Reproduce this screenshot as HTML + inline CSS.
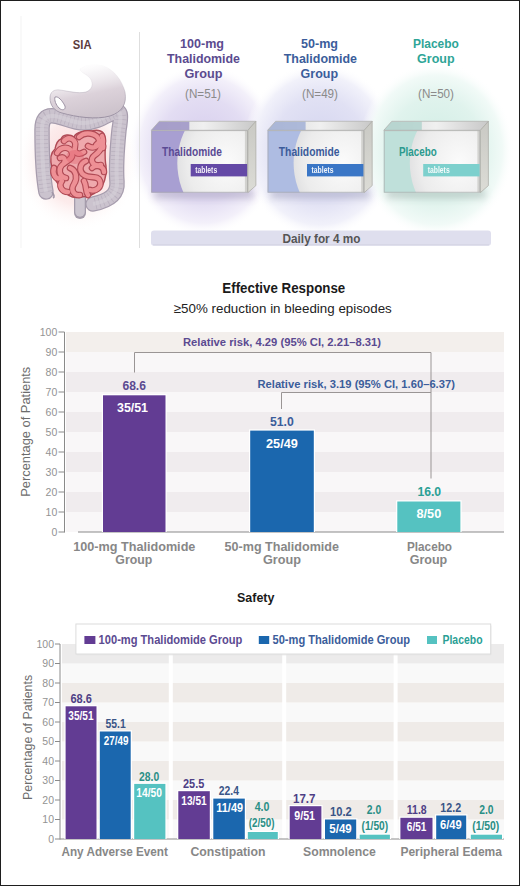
<!DOCTYPE html>
<html><head><meta charset="utf-8">
<style>
html,body{margin:0;padding:0;background:#fff;}
svg{display:block;}
text{font-family:"Liberation Sans",sans-serif;}
.b{font-weight:700;}
</style></head>
<body>
<svg width="520" height="886" viewBox="0 0 520 886">
<defs>
<filter id="blur4" x="-20%" y="-100%" width="140%" height="300%"><feGaussianBlur stdDeviation="3.5"/></filter>
<radialGradient id="gPur" cx="50%" cy="50%" r="50%">
<stop offset="0" stop-color="#d4cbec"/><stop offset="0.6" stop-color="#e3ddf3"/><stop offset="0.85" stop-color="#f3f0fa"/><stop offset="1" stop-color="#ffffff" stop-opacity="0"/>
</radialGradient>
<radialGradient id="gBlu" cx="50%" cy="50%" r="50%">
<stop offset="0" stop-color="#d2d3ee"/><stop offset="0.6" stop-color="#e1e1f4"/><stop offset="0.85" stop-color="#f1f1fa"/><stop offset="1" stop-color="#ffffff" stop-opacity="0"/>
</radialGradient>
<radialGradient id="gTea" cx="50%" cy="50%" r="50%">
<stop offset="0" stop-color="#d0ede4"/><stop offset="0.6" stop-color="#e0f3ed"/><stop offset="0.85" stop-color="#f1faf7"/><stop offset="1" stop-color="#ffffff" stop-opacity="0"/>
</radialGradient>
<radialGradient id="gPink" cx="50%" cy="50%" r="50%">
<stop offset="0" stop-color="#f9d8d8"/><stop offset="0.6" stop-color="#fcebeb"/><stop offset="1" stop-color="#ffffff" stop-opacity="0"/>
</radialGradient>
<radialGradient id="gWhite" cx="45%" cy="50%" r="55%">
<stop offset="0" stop-color="#fbfbfb"/><stop offset="0.65" stop-color="#ececec"/><stop offset="1" stop-color="#d8d8da"/>
</radialGradient>
<linearGradient id="gTop" x1="0" y1="0" x2="1" y2="0">
<stop offset="0" stop-color="#d8d8d8"/><stop offset="0.5" stop-color="#f0f0f0"/><stop offset="1" stop-color="#c8c8c8"/>
</linearGradient>
<linearGradient id="gSide" x1="0" y1="0" x2="0" y2="1">
<stop offset="0" stop-color="#c9c9c4"/><stop offset="1" stop-color="#dcdcd6"/>
</linearGradient>
<linearGradient id="gStom" x1="0" y1="0" x2="0" y2="1">
<stop offset="0" stop-color="#ffffff" stop-opacity="0"/><stop offset="0.5" stop-color="#cfc8d2"/><stop offset="1" stop-color="#bdb4c2"/>
</linearGradient>
</defs>

<!-- ============ TOP SECTION ============ -->
<!-- glows -->
<ellipse cx="204" cy="150" rx="76" ry="86" fill="url(#gPur)"/>
<ellipse cx="320" cy="150" rx="78" ry="88" fill="url(#gBlu)"/>
<ellipse cx="436" cy="150" rx="78" ry="88" fill="url(#gTea)"/>
<ellipse cx="78" cy="162" rx="62" ry="70" fill="url(#gPink)"/>

<line x1="21" y1="16" x2="21" y2="248" stroke="#f3f3f3" stroke-width="1"/>
<line x1="139.5" y1="32" x2="139.5" y2="248" stroke="#dedede" stroke-width="1"/>

<text x="82.2" y="48.5" text-anchor="middle" class="b" font-size="13" fill="#5b3a3c" textLength="18.7" lengthAdjust="spacingAndGlyphs">SIA</text>

<g id="intestine">
<defs><linearGradient id="gSt" x1="0.2" y1="0" x2="0.5" y2="1"><stop offset="0" stop-color="#ffffff" stop-opacity="0"/><stop offset="0.25" stop-color="#f0ecf0" stop-opacity="0.6"/><stop offset="0.6" stop-color="#dcd2da"/><stop offset="1" stop-color="#cdc3cc"/></linearGradient><linearGradient id="gStS" x1="0" y1="0" x2="0" y2="1"><stop offset="0" stop-color="#b0a8b6" stop-opacity="0"/><stop offset="0.4" stop-color="#b0a8b6" stop-opacity="0.2"/><stop offset="0.7" stop-color="#a59cab" stop-opacity="0.8"/><stop offset="1" stop-color="#9a90a2"/></linearGradient></defs>
<path d="M46,192 C43,176 42,150 42,130 C42,120 45,115 54,116 C64,117 72,123 84,123 C96,123 106,116 115,112 C122,109 121,118 119,130 C117,150 116,170 117,182 C118,195 108,201 93,204" fill="none" stroke="#a69cad" stroke-width="15.5" stroke-linecap="round" stroke-linejoin="round"/>
<path d="M46,192 C43,176 42,150 42,130 C42,120 45,115 54,116 C64,117 72,123 84,123 C96,123 106,116 115,112 C122,109 121,118 119,130 C117,150 116,170 117,182 C118,195 108,201 93,204" fill="none" stroke="#cbc3ce" stroke-width="13" stroke-linecap="round" stroke-linejoin="round"/>
<path d="M46,192 C43,176 42,150 42,130 C42,120 45,115 54,116 C64,117 72,123 84,123 C96,123 106,116 115,112 C122,109 121,118 119,130 C117,150 116,170 117,182 C118,195 108,201 93,204" fill="none" stroke="#aaa1b1" stroke-width="12" stroke-dasharray="0.7 3.3" opacity="0.55"/>
<path d="M46,192 C43,176 42,150 42,130 C42,120 45,115 54,116 C64,117 72,123 84,123 C96,123 106,116 115,112 C122,109 121,118 119,130 C117,150 116,170 117,182 C118,195 108,201 93,204" fill="none" stroke="#d6d0d8" stroke-width="4" opacity="0.6"/>
<path d="M52,192 C54,195 55,197 53,198" fill="none" stroke="#a197a8" stroke-width="1.6"/>
<path d="M80,197 L80,213" fill="none" stroke="#a59cab" stroke-width="12" stroke-linecap="round"/>
<path d="M80,197 L80,212" fill="none" stroke="#cdc6d0" stroke-width="9.5" stroke-linecap="round"/>
<path d="M80,69 C86,64 96,63 104,66 C114,70 122,80 125,92 C127,104 122,112 110,116 C96,120 76,117 62,113 C54,111 50,105 50,98 C50,92 54,89 60,90 C68,91 78,94 86,92 C92,90 94,84 90,78 C86,74 80,72 80,69 Z" fill="url(#gSt)" stroke="url(#gStS)" stroke-width="1"/>
<path d="M55,97 C58,96 62,100 65,106 C66,110 62,111 59,108 C56,105 54,100 55,97 Z" fill="#ffffff" stroke="#9d93a4" stroke-width="1"/>
<path d="M61,139 C63,134 70,134 74,137 C76,132 86,130 92,131 C98,129 104,131 105,137 C106,146 104,156 106,166 C107,176 104,186 98,190 C94,195 86,197 80,197 C72,199 64,194 62,187 C56,183 52,176 52,168 C50,160 50,153 55,149 C56,144 58,140 61,139 Z" fill="#efa9ad" stroke="#b04a55" stroke-width="1.4"/>
<path d="M57,153 C61,146 70,146 72,153 C74,159 66,161 62,165 C58,169 59,177 66,178" fill="none" stroke="#b04a55" stroke-width="6.6" stroke-linecap="round" stroke-linejoin="round"/>
<path d="M64,141 C69,135 77,140 75,147 C73,152 78,156 84,152" fill="none" stroke="#b04a55" stroke-width="6.6" stroke-linecap="round" stroke-linejoin="round"/>
<path d="M79,137 C85,131 97,133 99,140 C101,147 92,149 88,146" fill="none" stroke="#b04a55" stroke-width="6.6" stroke-linecap="round" stroke-linejoin="round"/>
<path d="M102,136 C105,143 101,151 95,155 C89,159 92,167 101,165" fill="none" stroke="#b04a55" stroke-width="6.6" stroke-linecap="round" stroke-linejoin="round"/>
<path d="M86,161 C80,163 78,171 84,175 C90,179 98,175 100,181 C102,187 96,192 90,190" fill="none" stroke="#b04a55" stroke-width="6.6" stroke-linecap="round" stroke-linejoin="round"/>
<path d="M70,168 C76,170 78,178 74,184 C70,190 74,196 80,195" fill="none" stroke="#b04a55" stroke-width="6.6" stroke-linecap="round" stroke-linejoin="round"/>
<path d="M62,181 C58,186 62,192 68,192" fill="none" stroke="#b04a55" stroke-width="6.6" stroke-linecap="round" stroke-linejoin="round"/>
<path d="M84,181 C87,186 85,191 88,195" fill="none" stroke="#b04a55" stroke-width="6.6" stroke-linecap="round" stroke-linejoin="round"/>
<path d="M54,168 C52,174 56,180 60,178" fill="none" stroke="#b04a55" stroke-width="6.6" stroke-linecap="round" stroke-linejoin="round"/>
<path d="M92,168 C96,164 104,166 104,172" fill="none" stroke="#b04a55" stroke-width="6.6" stroke-linecap="round" stroke-linejoin="round"/>
<path d="M60,158 C64,156 66,160 64,163" fill="none" stroke="#b04a55" stroke-width="6.6" stroke-linecap="round" stroke-linejoin="round"/>
<path d="M96,145 C99,141 104,143 103,148" fill="none" stroke="#b04a55" stroke-width="6.6" stroke-linecap="round" stroke-linejoin="round"/>
<path d="M57,153 C61,146 70,146 72,153 C74,159 66,161 62,165 C58,169 59,177 66,178" fill="none" stroke="#ee9095" stroke-width="4.4" stroke-linecap="round" stroke-linejoin="round"/>
<path d="M64,141 C69,135 77,140 75,147 C73,152 78,156 84,152" fill="none" stroke="#ee9095" stroke-width="4.4" stroke-linecap="round" stroke-linejoin="round"/>
<path d="M79,137 C85,131 97,133 99,140 C101,147 92,149 88,146" fill="none" stroke="#ee9095" stroke-width="4.4" stroke-linecap="round" stroke-linejoin="round"/>
<path d="M102,136 C105,143 101,151 95,155 C89,159 92,167 101,165" fill="none" stroke="#ee9095" stroke-width="4.4" stroke-linecap="round" stroke-linejoin="round"/>
<path d="M86,161 C80,163 78,171 84,175 C90,179 98,175 100,181 C102,187 96,192 90,190" fill="none" stroke="#ee9095" stroke-width="4.4" stroke-linecap="round" stroke-linejoin="round"/>
<path d="M70,168 C76,170 78,178 74,184 C70,190 74,196 80,195" fill="none" stroke="#ee9095" stroke-width="4.4" stroke-linecap="round" stroke-linejoin="round"/>
<path d="M62,181 C58,186 62,192 68,192" fill="none" stroke="#ee9095" stroke-width="4.4" stroke-linecap="round" stroke-linejoin="round"/>
<path d="M84,181 C87,186 85,191 88,195" fill="none" stroke="#ee9095" stroke-width="4.4" stroke-linecap="round" stroke-linejoin="round"/>
<path d="M54,168 C52,174 56,180 60,178" fill="none" stroke="#ee9095" stroke-width="4.4" stroke-linecap="round" stroke-linejoin="round"/>
<path d="M92,168 C96,164 104,166 104,172" fill="none" stroke="#ee9095" stroke-width="4.4" stroke-linecap="round" stroke-linejoin="round"/>
<path d="M60,158 C64,156 66,160 64,163" fill="none" stroke="#ee9095" stroke-width="4.4" stroke-linecap="round" stroke-linejoin="round"/>
<path d="M96,145 C99,141 104,143 103,148" fill="none" stroke="#ee9095" stroke-width="4.4" stroke-linecap="round" stroke-linejoin="round"/>
<ellipse cx="75" cy="157" rx="9" ry="7" fill="#e05a66" opacity="0.35"/>
</g>

<!-- headings -->
<g class="b" font-size="13.5" text-anchor="middle" fill="#5b4b8f">
<text x="202" y="47.5" textLength="44" lengthAdjust="spacingAndGlyphs">100-mg</text>
<text x="203.5" y="62.5" textLength="73" lengthAdjust="spacingAndGlyphs">Thalidomide</text>
<text x="203.5" y="77.5" textLength="38" lengthAdjust="spacingAndGlyphs">Group</text>
</g>
<g class="b" font-size="13.5" text-anchor="middle" fill="#3b5d9b">
<text x="319.5" y="47.5" textLength="37" lengthAdjust="spacingAndGlyphs">50-mg</text>
<text x="320.4" y="62.5" textLength="73.3" lengthAdjust="spacingAndGlyphs">Thalidomide</text>
<text x="319.3" y="77.5" textLength="37.5" lengthAdjust="spacingAndGlyphs">Group</text>
</g>
<g class="b" font-size="13.5" text-anchor="middle" fill="#2ea597">
<text x="435.9" y="47.5" textLength="45.8" lengthAdjust="spacingAndGlyphs">Placebo</text>
<text x="435.8" y="62.5" textLength="37.5" lengthAdjust="spacingAndGlyphs">Group</text>
</g>
<g font-size="12" text-anchor="middle" fill="#8a8a8a">
<text x="203" y="97.5" textLength="36" lengthAdjust="spacingAndGlyphs">(N=51)</text>
<text x="320" y="97.5" textLength="36" lengthAdjust="spacingAndGlyphs">(N=49)</text>
<text x="436" y="97.5" textLength="36" lengthAdjust="spacingAndGlyphs">(N=50)</text>
</g>

<!-- boxes -->
<g id="boxes">
<clipPath id="clipF1"><rect x="151.3" y="130.3" width="96.6" height="62.29999999999998"/></clipPath>
<clipPath id="clipF1t"><polygon points="151.3,130.3 159.3,121.30000000000001 255.9,121.30000000000001 247.9,130.3"/></clipPath>
<rect x="154.3" y="188.6" width="98.6" height="10" fill="#9890b0" opacity="0.45" filter="url(#blur4)"/>
<rect x="151.3" y="130.3" width="96.6" height="62.29999999999998" fill="#a89fd2"/>
<g clip-path="url(#clipF1)"><ellipse cx="232.3" cy="163" rx="55" ry="64" fill="url(#gWhite)"/><rect x="244.9" y="130.3" width="3" height="62.29999999999998" fill="#c4c4c0" opacity="0.7"/></g>
<rect x="151.70000000000002" y="130.70000000000002" width="95.8" height="61.499999999999986" fill="none" stroke="#a8a8a8" stroke-width="0.8" opacity="0.8"/>
<polygon points="151.3,130.3 159.3,121.30000000000001 255.9,121.30000000000001 247.9,130.3" fill="url(#gTop)"/>
<g clip-path="url(#clipF1t)"><rect x="151.3" y="121.30000000000001" width="38" height="9.0" fill="#9c93c6" opacity="0.85"/></g>
<polygon points="151.3,130.3 159.3,121.30000000000001 255.9,121.30000000000001 247.9,130.3" fill="none" stroke="#b0b0ae" stroke-width="0.7"/>
<polygon points="247.9,130.3 255.9,121.30000000000001 255.9,185.6 247.9,192.6" fill="url(#gSide)" stroke="#a9a9a2" stroke-width="0.7"/>
<text x="162.00" y="155.60" text-anchor="start" font-size="12.5" fill="#5a4a94" font-weight="700" textLength="60.0" lengthAdjust="spacingAndGlyphs">Thalidomide</text>
<rect x="190.70000000000002" y="164" width="56.39999999999999" height="12.4" fill="#6449a6"/>
<text x="195.20" y="173.20" text-anchor="start" font-size="8.5" fill="#ffffff" font-weight="700" textLength="22.0" lengthAdjust="spacingAndGlyphs" opacity="0.92">tablets</text>
<clipPath id="clipF2"><rect x="267.6" y="130.3" width="96.6" height="62.29999999999998"/></clipPath>
<clipPath id="clipF2t"><polygon points="267.6,130.3 275.6,121.30000000000001 372.20000000000005,121.30000000000001 364.20000000000005,130.3"/></clipPath>
<rect x="270.6" y="188.6" width="98.6" height="10" fill="#9496b4" opacity="0.45" filter="url(#blur4)"/>
<rect x="267.6" y="130.3" width="96.6" height="62.29999999999998" fill="#aebce2"/>
<g clip-path="url(#clipF2)"><ellipse cx="348.6" cy="163" rx="55" ry="64" fill="url(#gWhite)"/><rect x="361.20000000000005" y="130.3" width="3" height="62.29999999999998" fill="#c4c4c0" opacity="0.7"/></g>
<rect x="268.0" y="130.70000000000002" width="95.8" height="61.499999999999986" fill="none" stroke="#a8a8a8" stroke-width="0.8" opacity="0.8"/>
<polygon points="267.6,130.3 275.6,121.30000000000001 372.20000000000005,121.30000000000001 364.20000000000005,130.3" fill="url(#gTop)"/>
<g clip-path="url(#clipF2t)"><rect x="267.6" y="121.30000000000001" width="38" height="9.0" fill="#a2b0d6" opacity="0.85"/></g>
<polygon points="267.6,130.3 275.6,121.30000000000001 372.20000000000005,121.30000000000001 364.20000000000005,130.3" fill="none" stroke="#b0b0ae" stroke-width="0.7"/>
<polygon points="364.20000000000005,130.3 372.20000000000005,121.30000000000001 372.20000000000005,185.6 364.20000000000005,192.6" fill="url(#gSide)" stroke="#a9a9a2" stroke-width="0.7"/>
<text x="278.80" y="155.60" text-anchor="start" font-size="12.5" fill="#3b5b9a" font-weight="700" textLength="60.7" lengthAdjust="spacingAndGlyphs">Thalidomide</text>
<rect x="307.0" y="164" width="56.39999999999999" height="12.4" fill="#3a76c6"/>
<text x="311.50" y="173.20" text-anchor="start" font-size="8.5" fill="#ffffff" font-weight="700" textLength="22.0" lengthAdjust="spacingAndGlyphs" opacity="0.92">tablets</text>
<clipPath id="clipF3"><rect x="383.8" y="130.3" width="96.6" height="62.29999999999998"/></clipPath>
<clipPath id="clipF3t"><polygon points="383.8,130.3 391.8,121.30000000000001 488.4,121.30000000000001 480.4,130.3"/></clipPath>
<rect x="386.8" y="188.6" width="98.6" height="10" fill="#98aaa6" opacity="0.45" filter="url(#blur4)"/>
<rect x="383.8" y="130.3" width="96.6" height="62.29999999999998" fill="#bfe0da"/>
<g clip-path="url(#clipF3)"><ellipse cx="464.8" cy="163" rx="55" ry="64" fill="url(#gWhite)"/><rect x="477.4" y="130.3" width="3" height="62.29999999999998" fill="#c4c4c0" opacity="0.7"/></g>
<rect x="384.2" y="130.70000000000002" width="95.8" height="61.499999999999986" fill="none" stroke="#a8a8a8" stroke-width="0.8" opacity="0.8"/>
<polygon points="383.8,130.3 391.8,121.30000000000001 488.4,121.30000000000001 480.4,130.3" fill="url(#gTop)"/>
<g clip-path="url(#clipF3t)"><rect x="383.8" y="121.30000000000001" width="38" height="9.0" fill="#b2d4ce" opacity="0.85"/></g>
<polygon points="383.8,130.3 391.8,121.30000000000001 488.4,121.30000000000001 480.4,130.3" fill="none" stroke="#b0b0ae" stroke-width="0.7"/>
<polygon points="480.4,130.3 488.4,121.30000000000001 488.4,185.6 480.4,192.6" fill="url(#gSide)" stroke="#a9a9a2" stroke-width="0.7"/>
<text x="399.00" y="155.60" text-anchor="start" font-size="12.5" fill="#2a9a8e" font-weight="700" textLength="37.7" lengthAdjust="spacingAndGlyphs">Placebo</text>
<rect x="423.2" y="164" width="56.39999999999999" height="12.4" fill="#7dd0cd"/>
<text x="427.70" y="173.20" text-anchor="start" font-size="8.5" fill="#ffffff" font-weight="700" textLength="22.0" lengthAdjust="spacingAndGlyphs" opacity="0.92">tablets</text>
</g>

<!-- daily bar -->
<rect x="151" y="230.5" width="340" height="15.3" rx="3" fill="#dfdfee"/>
<rect x="153" y="244" width="336" height="1.5" fill="#d4d4e4" opacity="0.8"/>
<text x="321.5" y="242.7" text-anchor="middle" class="b" font-size="12" fill="#555" textLength="78" lengthAdjust="spacingAndGlyphs">Daily for 4 mo</text>

<!-- ============ CHART 1 ============ -->
<text x="283.8" y="293" text-anchor="middle" class="b" font-size="14.5" fill="#1a1a1a" textLength="123" lengthAdjust="spacingAndGlyphs">Effective Response</text>
<text x="282.8" y="313" text-anchor="middle" font-size="13.5" fill="#222" textLength="218" lengthAdjust="spacingAndGlyphs">≥50% reduction in bleeding episodes</text>

<g id="c1bands"></g>
<g id="c1">
<rect x="66" y="512.0" width="438" height="20.0" fill="#f9f7f8"/>
<rect x="66" y="492.0" width="438" height="20.0" fill="#f0ecee"/>
<rect x="66" y="472.0" width="438" height="20.0" fill="#f9f7f8"/>
<rect x="66" y="452.0" width="438" height="20.0" fill="#f0ecee"/>
<rect x="66" y="432.0" width="438" height="20.0" fill="#f9f7f8"/>
<rect x="66" y="412.0" width="438" height="20.0" fill="#f0ecee"/>
<rect x="66" y="392.0" width="438" height="20.0" fill="#f9f7f8"/>
<rect x="66" y="372.0" width="438" height="20.0" fill="#f0ecee"/>
<rect x="66" y="352.0" width="438" height="20.0" fill="#f9f7f8"/>
<rect x="66" y="332.0" width="438" height="20.0" fill="#f3efec"/>
<line x1="64.5" y1="332" x2="64.5" y2="532.5" stroke="#8a8a8a" stroke-width="1"/>
<line x1="78" y1="532" x2="504" y2="532" stroke="#8a8a8a" stroke-width="1.2"/>
<line x1="58.5" y1="532.0" x2="64.5" y2="532.0" stroke="#8a8a8a" stroke-width="1"/>
<text x="57.30" y="535.80" text-anchor="end" font-size="10.5" fill="#939393">0</text>
<line x1="58.5" y1="512.0" x2="64.5" y2="512.0" stroke="#8a8a8a" stroke-width="1"/>
<text x="57.30" y="515.80" text-anchor="end" font-size="10.5" fill="#939393">10</text>
<line x1="58.5" y1="492.0" x2="64.5" y2="492.0" stroke="#8a8a8a" stroke-width="1"/>
<text x="57.30" y="495.80" text-anchor="end" font-size="10.5" fill="#939393">20</text>
<line x1="58.5" y1="472.0" x2="64.5" y2="472.0" stroke="#8a8a8a" stroke-width="1"/>
<text x="57.30" y="475.80" text-anchor="end" font-size="10.5" fill="#939393">30</text>
<line x1="58.5" y1="452.0" x2="64.5" y2="452.0" stroke="#8a8a8a" stroke-width="1"/>
<text x="57.30" y="455.80" text-anchor="end" font-size="10.5" fill="#939393">40</text>
<line x1="58.5" y1="432.0" x2="64.5" y2="432.0" stroke="#8a8a8a" stroke-width="1"/>
<text x="57.30" y="435.80" text-anchor="end" font-size="10.5" fill="#939393">50</text>
<line x1="58.5" y1="412.0" x2="64.5" y2="412.0" stroke="#8a8a8a" stroke-width="1"/>
<text x="57.30" y="415.80" text-anchor="end" font-size="10.5" fill="#939393">60</text>
<line x1="58.5" y1="392.0" x2="64.5" y2="392.0" stroke="#8a8a8a" stroke-width="1"/>
<text x="57.30" y="395.80" text-anchor="end" font-size="10.5" fill="#939393">70</text>
<line x1="58.5" y1="372.0" x2="64.5" y2="372.0" stroke="#8a8a8a" stroke-width="1"/>
<text x="57.30" y="375.80" text-anchor="end" font-size="10.5" fill="#939393">80</text>
<line x1="58.5" y1="352.0" x2="64.5" y2="352.0" stroke="#8a8a8a" stroke-width="1"/>
<text x="57.30" y="355.80" text-anchor="end" font-size="10.5" fill="#939393">90</text>
<line x1="58.5" y1="332.0" x2="64.5" y2="332.0" stroke="#8a8a8a" stroke-width="1"/>
<text x="57.30" y="335.80" text-anchor="end" font-size="10.5" fill="#939393">100</text>
<text x="0.00" y="0.00" text-anchor="middle" font-size="13" fill="#6c6c6c" textLength="130.0" lengthAdjust="spacingAndGlyphs" transform="translate(30.2,431.7) rotate(-90)">Percentage of Patients</text>
<rect x="101.8" y="394.1" width="64.9" height="137.9" fill="#fff"/>
<rect x="103" y="395.3" width="62.5" height="136.7" fill="#623c93"/>
<rect x="249.0" y="429.4" width="66.0" height="102.6" fill="#fff"/>
<rect x="250.2" y="430.6" width="63.6" height="101.4" fill="#1b67ae"/>
<rect x="396.1" y="500.3" width="65.5" height="31.7" fill="#fff"/>
<rect x="397.3" y="501.5" width="63.1" height="30.5" fill="#55c2c1"/>
<path d="M134.5 372.5 V352.5 H431 V478.5" fill="none" stroke="#9a9595" stroke-width="1"/>
<path d="M281.5 409 V392.5 H431" fill="none" stroke="#9a9595" stroke-width="1"/>
<text x="282.00" y="345.50" text-anchor="middle" font-size="11.5" fill="#5b4a91" font-weight="700" textLength="198.0" lengthAdjust="spacingAndGlyphs">Relative risk, 4.29 (95% CI, 2.21–8.31)</text>
<text x="356.20" y="387.50" text-anchor="middle" font-size="11.5" fill="#3b5d9b" font-weight="700" textLength="197.5" lengthAdjust="spacingAndGlyphs">Relative risk, 3.19 (95% CI, 1.60–6.37)</text>
<text x="134.20" y="390.00" text-anchor="middle" font-size="13" fill="#5b4a91" font-weight="700" textLength="23.5" lengthAdjust="spacingAndGlyphs">68.6</text>
<text x="132.50" y="411.90" text-anchor="middle" font-size="12.5" fill="#ffffff" font-weight="700" textLength="31.0" lengthAdjust="spacingAndGlyphs">35/51</text>
<text x="281.90" y="425.50" text-anchor="middle" font-size="13" fill="#3b5d9b" font-weight="700" textLength="23.8" lengthAdjust="spacingAndGlyphs">51.0</text>
<text x="281.90" y="448.30" text-anchor="middle" font-size="12.5" fill="#ffffff" font-weight="700" textLength="31.8" lengthAdjust="spacingAndGlyphs">25/49</text>
<text x="429.30" y="496.00" text-anchor="middle" font-size="13" fill="#2a9f95" font-weight="700" textLength="23.7" lengthAdjust="spacingAndGlyphs">16.0</text>
<text x="428.90" y="517.70" text-anchor="middle" font-size="12.5" fill="#ffffff" font-weight="700" textLength="24.7" lengthAdjust="spacingAndGlyphs">8/50</text>
<text x="134.30" y="550.80" text-anchor="middle" font-size="13" fill="#878787" font-weight="700" textLength="122.2" lengthAdjust="spacingAndGlyphs">100-mg Thalidomide</text>
<text x="133.80" y="564.00" text-anchor="middle" font-size="13" fill="#878787" font-weight="700" textLength="36.9" lengthAdjust="spacingAndGlyphs">Group</text>
<text x="281.80" y="550.80" text-anchor="middle" font-size="13" fill="#878787" font-weight="700" textLength="114.4" lengthAdjust="spacingAndGlyphs">50-mg Thalidomide</text>
<text x="282.00" y="564.00" text-anchor="middle" font-size="13" fill="#878787" font-weight="700" textLength="38.0" lengthAdjust="spacingAndGlyphs">Group</text>
<text x="429.50" y="550.80" text-anchor="middle" font-size="13" fill="#878787" font-weight="700" textLength="45.0" lengthAdjust="spacingAndGlyphs">Placebo</text>
<text x="428.50" y="564.00" text-anchor="middle" font-size="13" fill="#878787" font-weight="700" textLength="37.5" lengthAdjust="spacingAndGlyphs">Group</text>
</g>

<!-- ============ CHART 2 ============ -->
<text x="255.7" y="602.3" text-anchor="middle" class="b" font-size="13.5" fill="#1a1a1a" textLength="37.4" lengthAdjust="spacingAndGlyphs">Safety</text>
<g id="c2">
<rect x="62" y="819.50" width="106.8" height="19.50" fill="#f9f9f9"/>
<rect x="62" y="800.00" width="106.8" height="19.50" fill="#efebe8"/>
<rect x="62" y="780.50" width="106.8" height="19.50" fill="#f9f9f9"/>
<rect x="62" y="761.00" width="106.8" height="19.50" fill="#efebe8"/>
<rect x="62" y="741.50" width="106.8" height="19.50" fill="#f9f9f9"/>
<rect x="62" y="722.00" width="106.8" height="19.50" fill="#efebe8"/>
<rect x="62" y="702.50" width="106.8" height="19.50" fill="#f9f9f9"/>
<rect x="62" y="683.00" width="106.8" height="19.50" fill="#efebe8"/>
<rect x="62" y="663.50" width="106.8" height="19.50" fill="#f9f9f9"/>
<rect x="62" y="644.00" width="106.8" height="19.50" fill="#ecebeb"/>
<rect x="172.8" y="819.50" width="109.4" height="19.50" fill="#f9f9f9"/>
<rect x="172.8" y="800.00" width="109.4" height="19.50" fill="#efebe8"/>
<rect x="172.8" y="780.50" width="109.4" height="19.50" fill="#f9f9f9"/>
<rect x="172.8" y="761.00" width="109.4" height="19.50" fill="#efebe8"/>
<rect x="172.8" y="741.50" width="109.4" height="19.50" fill="#f9f9f9"/>
<rect x="172.8" y="722.00" width="109.4" height="19.50" fill="#efebe8"/>
<rect x="172.8" y="702.50" width="109.4" height="19.50" fill="#f9f9f9"/>
<rect x="172.8" y="683.00" width="109.4" height="19.50" fill="#efebe8"/>
<rect x="172.8" y="663.50" width="109.4" height="19.50" fill="#f9f9f9"/>
<rect x="172.8" y="644.00" width="109.4" height="19.50" fill="#ecebeb"/>
<rect x="286.2" y="819.50" width="107.4" height="19.50" fill="#f9f9f9"/>
<rect x="286.2" y="800.00" width="107.4" height="19.50" fill="#efebe8"/>
<rect x="286.2" y="780.50" width="107.4" height="19.50" fill="#f9f9f9"/>
<rect x="286.2" y="761.00" width="107.4" height="19.50" fill="#efebe8"/>
<rect x="286.2" y="741.50" width="107.4" height="19.50" fill="#f9f9f9"/>
<rect x="286.2" y="722.00" width="107.4" height="19.50" fill="#efebe8"/>
<rect x="286.2" y="702.50" width="107.4" height="19.50" fill="#f9f9f9"/>
<rect x="286.2" y="683.00" width="107.4" height="19.50" fill="#efebe8"/>
<rect x="286.2" y="663.50" width="107.4" height="19.50" fill="#f9f9f9"/>
<rect x="286.2" y="644.00" width="107.4" height="19.50" fill="#ecebeb"/>
<rect x="397.6" y="819.50" width="106.4" height="19.50" fill="#f9f9f9"/>
<rect x="397.6" y="800.00" width="106.4" height="19.50" fill="#efebe8"/>
<rect x="397.6" y="780.50" width="106.4" height="19.50" fill="#f9f9f9"/>
<rect x="397.6" y="761.00" width="106.4" height="19.50" fill="#efebe8"/>
<rect x="397.6" y="741.50" width="106.4" height="19.50" fill="#f9f9f9"/>
<rect x="397.6" y="722.00" width="106.4" height="19.50" fill="#efebe8"/>
<rect x="397.6" y="702.50" width="106.4" height="19.50" fill="#f9f9f9"/>
<rect x="397.6" y="683.00" width="106.4" height="19.50" fill="#efebe8"/>
<rect x="397.6" y="663.50" width="106.4" height="19.50" fill="#f9f9f9"/>
<rect x="397.6" y="644.00" width="106.4" height="19.50" fill="#ecebeb"/>
<line x1="60" y1="644" x2="60" y2="839.5" stroke="#8a8a8a" stroke-width="1"/>
<line x1="60" y1="839" x2="504" y2="839" stroke="#8a8a8a" stroke-width="1"/>
<line x1="55" y1="839.00" x2="60" y2="839.00" stroke="#8a8a8a" stroke-width="1"/>
<text x="54.00" y="842.80" text-anchor="end" font-size="10.5" fill="#939393">0</text>
<line x1="55" y1="819.50" x2="60" y2="819.50" stroke="#8a8a8a" stroke-width="1"/>
<text x="54.00" y="823.30" text-anchor="end" font-size="10.5" fill="#939393">10</text>
<line x1="55" y1="800.00" x2="60" y2="800.00" stroke="#8a8a8a" stroke-width="1"/>
<text x="54.00" y="803.80" text-anchor="end" font-size="10.5" fill="#939393">20</text>
<line x1="55" y1="780.50" x2="60" y2="780.50" stroke="#8a8a8a" stroke-width="1"/>
<text x="54.00" y="784.30" text-anchor="end" font-size="10.5" fill="#939393">30</text>
<line x1="55" y1="761.00" x2="60" y2="761.00" stroke="#8a8a8a" stroke-width="1"/>
<text x="54.00" y="764.80" text-anchor="end" font-size="10.5" fill="#939393">40</text>
<line x1="55" y1="741.50" x2="60" y2="741.50" stroke="#8a8a8a" stroke-width="1"/>
<text x="54.00" y="745.30" text-anchor="end" font-size="10.5" fill="#939393">50</text>
<line x1="55" y1="722.00" x2="60" y2="722.00" stroke="#8a8a8a" stroke-width="1"/>
<text x="54.00" y="725.80" text-anchor="end" font-size="10.5" fill="#939393">60</text>
<line x1="55" y1="702.50" x2="60" y2="702.50" stroke="#8a8a8a" stroke-width="1"/>
<text x="54.00" y="706.30" text-anchor="end" font-size="10.5" fill="#939393">70</text>
<line x1="55" y1="683.00" x2="60" y2="683.00" stroke="#8a8a8a" stroke-width="1"/>
<text x="54.00" y="686.80" text-anchor="end" font-size="10.5" fill="#939393">80</text>
<line x1="55" y1="663.50" x2="60" y2="663.50" stroke="#8a8a8a" stroke-width="1"/>
<text x="54.00" y="667.30" text-anchor="end" font-size="10.5" fill="#939393">90</text>
<line x1="55" y1="644.00" x2="60" y2="644.00" stroke="#8a8a8a" stroke-width="1"/>
<text x="54.00" y="647.80" text-anchor="end" font-size="10.5" fill="#939393">100</text>
<text x="0.00" y="0.00" text-anchor="middle" font-size="13" fill="#6c6c6c" textLength="125.0" lengthAdjust="spacingAndGlyphs" transform="translate(32.4,737.4) rotate(-90)">Percentage of Patients</text>
<rect x="76.5" y="625.5" width="415" height="30" fill="#e6e6e6" opacity="0.6"/>
<rect x="75.9" y="624" width="414.8" height="30" fill="#ffffff" stroke="#dcdcdc" stroke-width="1"/>
<rect x="84.4" y="636" width="11" height="8" fill="#623c93"/>
<rect x="258.8" y="636" width="10.4" height="8" fill="#1b67ae"/>
<rect x="427" y="636" width="10" height="8" fill="#55c2c1"/>
<text x="98.60" y="643.80" text-anchor="start" font-size="12.5" fill="#5b4a91" font-weight="700" textLength="143.8" lengthAdjust="spacingAndGlyphs">100-mg Thalidomide Group</text>
<text x="272.50" y="643.80" text-anchor="start" font-size="12.5" fill="#3b5d9b" font-weight="700" textLength="137.5" lengthAdjust="spacingAndGlyphs">50-mg Thalidomide Group</text>
<text x="442.50" y="643.80" text-anchor="start" font-size="12.5" fill="#2a9f95" font-weight="700" textLength="40.0" lengthAdjust="spacingAndGlyphs">Placebo</text>
<rect x="64.39999999999999" y="705.10" width="33.3" height="133.90" fill="#fff"/>
<rect x="65.6" y="706.30" width="30.9" height="132.70" fill="#623c93"/>
<text x="81.20" y="702.90" text-anchor="middle" font-size="12.3" fill="#4e3f86" font-weight="700" textLength="21.4" lengthAdjust="spacingAndGlyphs">68.6</text>
<text x="80.90" y="719.60" text-anchor="middle" font-size="12.3" fill="#ffffff" font-weight="700" textLength="25.2" lengthAdjust="spacingAndGlyphs">35/51</text>
<rect x="98.6" y="730.30" width="33.3" height="108.70" fill="#fff"/>
<rect x="99.8" y="731.50" width="30.9" height="107.50" fill="#1b67ae"/>
<text x="115.60" y="728.10" text-anchor="middle" font-size="12.3" fill="#3a5587" font-weight="700" textLength="20.2" lengthAdjust="spacingAndGlyphs">55.1</text>
<text x="116.15" y="744.80" text-anchor="middle" font-size="12.3" fill="#ffffff" font-weight="700" textLength="24.7" lengthAdjust="spacingAndGlyphs">27/49</text>
<rect x="133.0" y="782.70" width="33.6" height="56.30" fill="#fff"/>
<rect x="134.2" y="783.90" width="31.2" height="55.10" fill="#55c2c1"/>
<text x="149.15" y="780.50" text-anchor="middle" font-size="12.3" fill="#2a8f86" font-weight="700" textLength="20.1" lengthAdjust="spacingAndGlyphs">28.0</text>
<text x="149.15" y="797.20" text-anchor="middle" font-size="12.3" fill="#ffffff" font-weight="700" textLength="25.7" lengthAdjust="spacingAndGlyphs">14/50</text>
<rect x="177.10000000000002" y="790.00" width="33.9" height="49.00" fill="#fff"/>
<rect x="178.3" y="791.20" width="31.5" height="47.80" fill="#623c93"/>
<text x="193.65" y="787.80" text-anchor="middle" font-size="12.3" fill="#4e3f86" font-weight="700" textLength="21.3" lengthAdjust="spacingAndGlyphs">25.5</text>
<text x="194.00" y="804.50" text-anchor="middle" font-size="12.3" fill="#ffffff" font-weight="700" textLength="25.4" lengthAdjust="spacingAndGlyphs">13/51</text>
<rect x="212.10000000000002" y="797.40" width="33.9" height="41.60" fill="#fff"/>
<rect x="213.3" y="798.60" width="31.5" height="40.40" fill="#1b67ae"/>
<text x="228.85" y="795.20" text-anchor="middle" font-size="12.3" fill="#3a5587" font-weight="700" textLength="20.1" lengthAdjust="spacingAndGlyphs">22.4</text>
<text x="229.70" y="811.90" text-anchor="middle" font-size="12.3" fill="#ffffff" font-weight="700" textLength="26.8" lengthAdjust="spacingAndGlyphs">11/49</text>
<rect x="246.60000000000002" y="830.80" width="32.4" height="8.20" fill="#fff"/>
<rect x="247.8" y="832.00" width="30.0" height="7.00" fill="#55c2c1"/>
<text x="262.10" y="811.20" text-anchor="middle" font-size="12.3" fill="#2a8f86" font-weight="700" textLength="14.8" lengthAdjust="spacingAndGlyphs">4.0</text>
<text x="261.65" y="827.00" text-anchor="middle" font-size="12.3" fill="#2a8f86" font-weight="700" textLength="25.7" lengthAdjust="spacingAndGlyphs">(2/50)</text>
<rect x="288.5" y="805.00" width="34.1" height="34.00" fill="#fff"/>
<rect x="289.7" y="806.20" width="31.7" height="32.80" fill="#623c93"/>
<text x="304.25" y="802.80" text-anchor="middle" font-size="12.3" fill="#4e3f86" font-weight="700" textLength="22.5" lengthAdjust="spacingAndGlyphs">17.7</text>
<text x="304.65" y="819.50" text-anchor="middle" font-size="12.3" fill="#ffffff" font-weight="700" textLength="20.7" lengthAdjust="spacingAndGlyphs">9/51</text>
<rect x="323.8" y="818.30" width="33.6" height="20.70" fill="#fff"/>
<rect x="325.0" y="819.50" width="31.2" height="19.50" fill="#1b67ae"/>
<text x="340.85" y="816.10" text-anchor="middle" font-size="12.3" fill="#3a5587" font-weight="700" textLength="21.7" lengthAdjust="spacingAndGlyphs">10.2</text>
<text x="340.50" y="832.80" text-anchor="middle" font-size="12.3" fill="#ffffff" font-weight="700" textLength="22.4" lengthAdjust="spacingAndGlyphs">5/49</text>
<rect x="358.5" y="833.50" width="32.6" height="5.50" fill="#fff"/>
<rect x="359.7" y="834.70" width="30.2" height="4.30" fill="#55c2c1"/>
<text x="374.00" y="813.90" text-anchor="middle" font-size="12.3" fill="#2a8f86" font-weight="700" textLength="14.4" lengthAdjust="spacingAndGlyphs">2.0</text>
<text x="374.85" y="829.70" text-anchor="middle" font-size="12.3" fill="#2a8f86" font-weight="700" textLength="26.7" lengthAdjust="spacingAndGlyphs">(1/50)</text>
<rect x="399.2" y="816.60" width="34.5" height="22.40" fill="#fff"/>
<rect x="400.4" y="817.80" width="32.1" height="21.20" fill="#623c93"/>
<text x="416.75" y="814.40" text-anchor="middle" font-size="12.3" fill="#4e3f86" font-weight="700" textLength="19.9" lengthAdjust="spacingAndGlyphs">11.8</text>
<text x="416.60" y="831.10" text-anchor="middle" font-size="12.3" fill="#ffffff" font-weight="700" textLength="19.6" lengthAdjust="spacingAndGlyphs">6/51</text>
<rect x="435.0" y="814.30" width="32.4" height="24.70" fill="#fff"/>
<rect x="436.2" y="815.50" width="30.0" height="23.50" fill="#1b67ae"/>
<text x="450.70" y="812.10" text-anchor="middle" font-size="12.3" fill="#3a5587" font-weight="700" textLength="20.8" lengthAdjust="spacingAndGlyphs">12.2</text>
<text x="450.85" y="828.80" text-anchor="middle" font-size="12.3" fill="#ffffff" font-weight="700" textLength="21.7" lengthAdjust="spacingAndGlyphs">6/49</text>
<rect x="469.6" y="833.50" width="33.6" height="5.50" fill="#fff"/>
<rect x="470.8" y="834.70" width="31.2" height="4.30" fill="#55c2c1"/>
<text x="486.40" y="813.90" text-anchor="middle" font-size="12.3" fill="#2a8f86" font-weight="700" textLength="14.4" lengthAdjust="spacingAndGlyphs">2.0</text>
<text x="485.75" y="829.70" text-anchor="middle" font-size="12.3" fill="#2a8f86" font-weight="700" textLength="27.1" lengthAdjust="spacingAndGlyphs">(1/50)</text>
<text x="114.70" y="856.40" text-anchor="middle" font-size="13" fill="#878787" font-weight="700" textLength="106.5" lengthAdjust="spacingAndGlyphs">Any Adverse Event</text>
<text x="228.00" y="856.40" text-anchor="middle" font-size="13" fill="#878787" font-weight="700" textLength="75.0" lengthAdjust="spacingAndGlyphs">Constipation</text>
<text x="339.40" y="856.40" text-anchor="middle" font-size="13" fill="#878787" font-weight="700" textLength="72.8" lengthAdjust="spacingAndGlyphs">Somnolence</text>
<text x="451.20" y="856.40" text-anchor="middle" font-size="13" fill="#878787" font-weight="700" textLength="101.6" lengthAdjust="spacingAndGlyphs">Peripheral Edema</text>
</g>

<!-- frame -->
<rect x="0.5" y="0.5" width="519" height="885" fill="none" stroke="#1e1e1e" stroke-width="1"/>
</svg>
</body></html>
